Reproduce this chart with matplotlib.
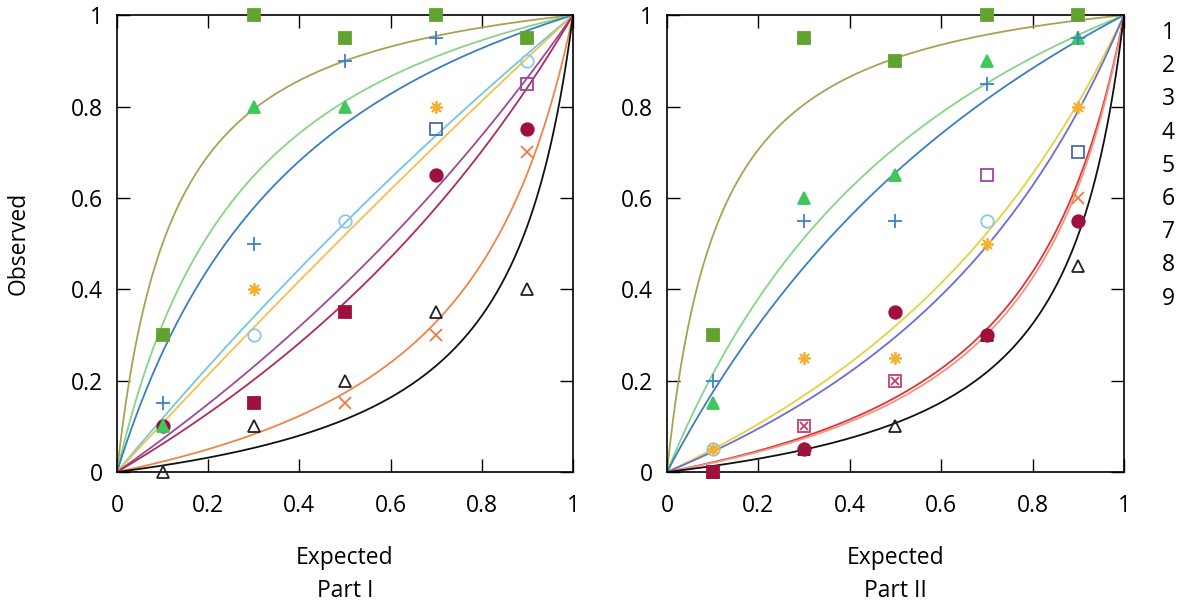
import numpy as np
import matplotlib.pyplot as plt

plt.rcParams['font.family'] = ['Open Sans', 'DejaVu Sans']

# ---- Part I data ----
p1_olive_sq_x = [0.1, 0.3, 0.5, 0.7, 0.9]
p1_olive_sq_y = [0.3, 1.0, 0.95, 1.0, 0.95]
p1_green_tri_x = [0.1, 0.3, 0.5]
p1_green_tri_y = [0.1, 0.8, 0.8]
p1_blue_plus_x = [0.1, 0.3, 0.5, 0.7]
p1_blue_plus_y = [0.15, 0.5, 0.9, 0.95]
p1_sky_circ_x = [0.3, 0.5, 0.9]
p1_sky_circ_y = [0.3, 0.55, 0.9]
p1_orange_ast_x = [0.3, 0.7]
p1_orange_ast_y = [0.4, 0.8]
p1_slate_sq_x = [0.7]
p1_slate_sq_y = [0.75]
p1_purple_sq_x = [0.9]
p1_purple_sq_y = [0.85]
p1_crimson_circ_x = [0.1, 0.7, 0.9]
p1_crimson_circ_y = [0.1, 0.65, 0.75]
p1_crimson_sq_x = [0.3, 0.5]
p1_crimson_sq_y = [0.15, 0.35]
p1_orange_x_x = [0.5, 0.7, 0.9]
p1_orange_x_y = [0.15, 0.3, 0.7]
p1_black_tri_x = [0.1, 0.3, 0.5, 0.7, 0.9]
p1_black_tri_y = [0.0, 0.1, 0.2, 0.35, 0.4]

# fitted curves: odds-ratio parameter for each curve
p1_curve_r = [9.0, 4.3, 3.2, 1.2, 1.08, 0.70, 0.59, 0.21, 0.13]
p1_curve_col = ['#a9a253', '#86d486', '#3a7ec2', '#74c6e2', '#f2c24a',
                '#9a4a9c', '#b02a5a', '#f08448', '#111111']

# ---- Part II data ----
p2_olive_sq_x = [0.1, 0.3, 0.5, 0.7, 0.9]
p2_olive_sq_y = [0.3, 0.95, 0.9, 1.0, 1.0]
p2_green_tri_x = [0.1, 0.3, 0.5, 0.7, 0.9]
p2_green_tri_y = [0.15, 0.6, 0.65, 0.9, 0.95]
p2_blue_plus_x = [0.1, 0.3, 0.5, 0.7, 0.9]
p2_blue_plus_y = [0.2, 0.55, 0.55, 0.85, 0.95]
p2_sky_circ_x = [0.1, 0.7]
p2_sky_circ_y = [0.05, 0.55]
p2_orange_ast_x = [0.1, 0.3, 0.5, 0.7, 0.9]
p2_orange_ast_y = [0.05, 0.25, 0.25, 0.5, 0.8]
p2_purple_sq_x = [0.7]
p2_purple_sq_y = [0.65]
p2_slate_sq_x = [0.9]
p2_slate_sq_y = [0.7]
p2_boxx_x = [0.3, 0.5]
p2_boxx_y = [0.1, 0.2]
p2_crimson_circ_x = [0.3, 0.5, 0.7, 0.9]
p2_crimson_circ_y = [0.05, 0.35, 0.3, 0.55]
p2_crimson_sq_x = [0.1]
p2_crimson_sq_y = [0.0]
p2_orange_x_x = [0.9]
p2_orange_x_y = [0.6]
p2_black_tri_x = [0.1, 0.3, 0.5, 0.7, 0.9]
p2_black_tri_y = [0.0, 0.05, 0.1, 0.3, 0.45]

p2_curve_r = [9.6, 2.45, 1.9, 0.47, 0.42, 0.195, 0.185, 0.12]
p2_curve_col = ['#a9a253', '#86d486', '#3a7ec2', '#e6d040', '#6c6cd6',
                '#e03434', '#f29484', '#111111']

legend_labels = ['1', '2', '3', '4', '5', '6', '7', '8', '9']
ticks = [0, 0.2, 0.4, 0.6, 0.8, 1]
tick_labels = ['0', '0.2', '0.4', '0.6', '0.8', '1']

C_OLIVE = '#62a330'
C_GREEN = '#3ec85a'
C_BLUE = '#3a84c8'
C_SKY = '#8cc8e8'
C_ORANGE = '#f5b030'
C_SLATE = '#4a6aa8'
C_PURPLE = '#9a44a4'
C_CRIMSON = '#a0103c'
C_ORX = '#f07a40'
C_PINK = '#c4406a'
C_BLACK = '#222222'

ASTERISK = (8, 2, 0)
FS = 16.5


def curve(r, x):
    return r * x / (1 + (r - 1) * x)


def style_axes(ax, xlabel, show_ylabel):
    ax.set_xlim(0, 1)
    ax.set_ylim(0, 1)
    ax.set_xticks(ticks)
    ax.set_xticklabels(tick_labels)
    ax.set_yticks(ticks)
    ax.set_yticklabels(tick_labels)
    ax.tick_params(direction='in', length=9.5, width=1, labelsize=FS,
                   top=True, right=True)
    ax.tick_params(axis='x', pad=16)
    ax.tick_params(axis='y', pad=10)
    for s in ax.spines.values():
        s.set_linewidth(1.2)
    ax.set_xlabel(xlabel, fontsize=FS, labelpad=20, linespacing=1.5)
    if show_ylabel:
        ax.set_ylabel('Observed', fontsize=FS, labelpad=29)


def pts(ax, x, y, marker, color, ms=8, filled=True, mew=1.3):
    ax.plot(x, y, linestyle='none', marker=marker, ms=ms,
            color=color, mfc=color if filled else 'none', mec=color,
            mew=mew, clip_on=False, zorder=4)


fig = plt.figure(figsize=(11.97, 6.10), dpi=100)
ax1 = fig.add_axes([0.0977, 0.2262, 0.381, 0.749])
ax2 = fig.add_axes([0.5572, 0.2262, 0.3818, 0.749])

xs = np.linspace(0, 1, 300)
for r, c in zip(p1_curve_r, p1_curve_col):
    ax1.plot(xs, curve(r, xs), color=c, lw=1.3, zorder=2)
for r, c in zip(p2_curve_r, p2_curve_col):
    ax2.plot(xs, curve(r, xs), color=c, lw=1.3, zorder=2)

# Part I markers
pts(ax1, p1_black_tri_x, p1_black_tri_y, '^', C_BLACK, ms=8, filled=False)
pts(ax1, p1_crimson_circ_x, p1_crimson_circ_y, 'o', C_CRIMSON, ms=9)
pts(ax1, p1_crimson_sq_x, p1_crimson_sq_y, 's', C_CRIMSON, ms=8)
pts(ax1, p1_olive_sq_x, p1_olive_sq_y, 's', C_OLIVE, ms=8)
pts(ax1, p1_green_tri_x, p1_green_tri_y, '^', C_GREEN, ms=8)
pts(ax1, p1_blue_plus_x, p1_blue_plus_y, '+', C_BLUE, ms=10)
pts(ax1, p1_sky_circ_x, p1_sky_circ_y, 'o', C_SKY, ms=9, filled=False)
pts(ax1, p1_orange_ast_x, p1_orange_ast_y, ASTERISK, C_ORANGE, ms=9)
pts(ax1, p1_slate_sq_x, p1_slate_sq_y, 's', C_SLATE, ms=8, filled=False)
pts(ax1, p1_purple_sq_x, p1_purple_sq_y, 's', C_PURPLE, ms=8, filled=False)
pts(ax1, p1_orange_x_x, p1_orange_x_y, 'x', C_ORX, ms=8)

# Part II markers
pts(ax2, p2_black_tri_x, p2_black_tri_y, '^', C_BLACK, ms=8, filled=False)
pts(ax2, p2_crimson_sq_x, p2_crimson_sq_y, 's', C_CRIMSON, ms=8)
pts(ax2, p2_crimson_circ_x, p2_crimson_circ_y, 'o', C_CRIMSON, ms=9)
pts(ax2, p2_olive_sq_x, p2_olive_sq_y, 's', C_OLIVE, ms=8)
pts(ax2, p2_green_tri_x, p2_green_tri_y, '^', C_GREEN, ms=8)
pts(ax2, p2_blue_plus_x, p2_blue_plus_y, '+', C_BLUE, ms=10)
pts(ax2, p2_sky_circ_x, p2_sky_circ_y, 'o', C_SKY, ms=9, filled=False)
pts(ax2, p2_orange_ast_x, p2_orange_ast_y, ASTERISK, C_ORANGE, ms=9)
pts(ax2, p2_purple_sq_x, p2_purple_sq_y, 's', C_PURPLE, ms=8, filled=False)
pts(ax2, p2_slate_sq_x, p2_slate_sq_y, 's', C_SLATE, ms=8, filled=False)
pts(ax2, p2_boxx_x, p2_boxx_y, 's', C_PINK, ms=8, filled=False)
pts(ax2, p2_boxx_x, p2_boxx_y, 'x', C_PINK, ms=6)
pts(ax2, p2_orange_x_x, p2_orange_x_y, 'x', C_ORX, ms=8)

style_axes(ax1, 'Expected\nPart I', True)
style_axes(ax2, 'Expected\nPart II', False)

# key on the right (labels only)
for i, lab in enumerate(legend_labels):
    fig.text(0.9758, 1 - (33 + i * 33.2) / 610, lab, fontsize=FS,
             ha='center', va='center')

fig.savefig('out.png', dpi=100)
